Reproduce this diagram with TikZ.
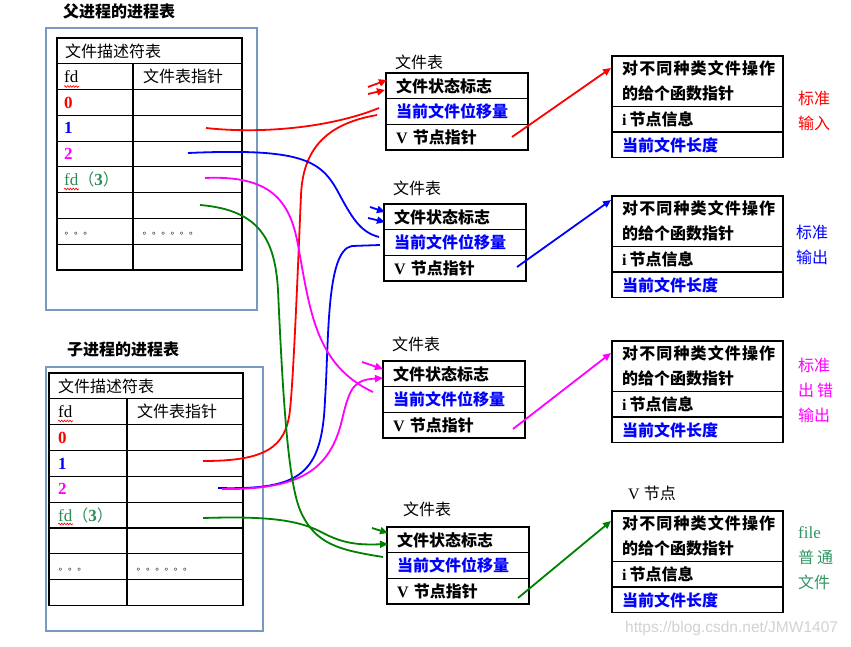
\documentclass[tikz,border=0pt]{standalone}
\usepackage{fontspec}
\setmainfont{Liberation Serif}
\newfontfamily\cjk{Noto Sans CJK SC}
\newfontfamily\wmfont{Liberation Sans}
\usetikzlibrary{arrows.meta,decorations.pathmorphing}
\definecolor{panelc}{RGB}{122,153,193}
\definecolor{mred}{RGB}{255,0,0}
\definecolor{mblue}{RGB}{0,0,255}
\definecolor{mmag}{RGB}{255,0,255}
\definecolor{mgreen}{RGB}{0,128,0}
\definecolor{tealc}{RGB}{46,139,87}
\definecolor{filec}{RGB}{50,150,100}
\definecolor{wmgray}{RGB}{210,210,210}
\newcommand\ftab[5]{% name, left, top, label x, label y
  \draw[tbl] (#2,#3) rectangle ({#2+142},{#3+77});
  \draw[tbl] (#2,{#3+25.7}) -- ({#2+142},{#3+25.7});
  \draw[tbl] (#2,{#3+51.4}) -- ({#2+142},{#3+51.4});
  \node[cellr] (#1l) at (#4,#5) {文件表};
  \node[cellb] (#1s) at ({#2+10},{#3+12.9}) {文件状态标志};
  \node[cellb,text=mblue] (#1o) at ({#2+10},{#3+38.5}) {当前文件位移量};
  \node[cellb] (#1v) at ({#2+10},{#3+64.2}) {{\rmfamily V}\hspace{5pt}节点指针};
}
\newcommand\vnbox[2]{% name, top
  \draw[tbl] (612,#2) rectangle (783,{#2+101.5});
  \draw[tbl] (612,{#2+50.5}) -- (783,{#2+50.5});
  \draw[tbl] (612,{#2+76}) -- (783,{#2+76});
  \node[cellb] (#1a) at (622,{#2+12.5}) {\addfontfeature{LetterSpace=7}对不同种类文件操作};
  \node[cellb] (#1b) at (622,{#2+37}) {的给个函数指针};
  \node[cellb] (#1c) at (622,{#2+63}) {{\rmfamily i}\hspace{3pt}节点信息};
  \node[cellb,text=mblue] (#1d) at (622,{#2+89}) {当前文件长度};
}
\begin{document}
\begin{tikzpicture}[x=1pt,y=-1pt,
  tbl/.style={draw=black,line width=1.1pt},
  panel/.style={draw=panelc,line width=2.4pt},
  cellr/.style={anchor=west,inner sep=0pt,font=\cjk\fontsize{16}{16}\selectfont},
  cellb/.style={anchor=west,inner sep=0pt,font=\cjk\bfseries\fontsize{16}{16}\selectfont},
  num/.style={anchor=west,inner sep=0pt,font=\rmfamily\bfseries\fontsize{17}{17}\selectfont},
  lat/.style={anchor=west,inner sep=0pt,font=\rmfamily\fontsize{17}{17}\selectfont},
  dots/.style={anchor=base west,inner sep=0pt,font=\cjk\fontsize{9.3}{9.3}\selectfont},
  wave/.style={draw=mred,line width=0.6pt,decorate,decoration={snake,amplitude=0.9pt,segment length=2.8pt}},
  conn/.style={line width=1.8pt},
  tip/.style={-{Triangle[length=8pt,width=7pt]}}]
\useasboundingbox[fill=white] (0,0) rectangle (851,647);

% ---------- parent process table ----------
\node[cellb] (ptitle) at (63,11) {父进程的进程表};
\draw[panel] (46,28) rectangle (257,310);
\draw[tbl] (57,38) rectangle (242,270);
\foreach \i in {1,...,8} \draw[tbl] (57,{38+\i*25.78}) -- (242,{38+\i*25.78});
\draw[tbl] (133,63.78) -- (133,270);
\node[cellr] (ph) at (65,50.9) {文件描述符表};
\node[lat] (pfd) at (64,76.7) {fd};
\node[cellr] (pptr) at (143,76.7) {文件表指针};
\node[num,text=mred] (p0) at (64,102.5) {0};
\node[num,text=mblue] (p1) at (64,128.2) {1};
\node[num,text=mmag] (p2) at (64,154) {2};
\node[anchor=west,inner sep=0pt,text=tealc] (p3) at (64,179.8) {\fontsize{17}{17}\selectfont fd{\cjk\fontsize{16}{16}\selectfont （}\textbf{3}{\cjk\fontsize{16}{16}\selectfont ）}};
\node[dots] (pd1) at (64.5,234.5) {。。。};
\node[dots] (pd2) at (142.5,234.5) {。。。。。。};
\draw[wave] (64,86.5) -- (79,86.5);
\draw[wave] (64,189) -- (79,189);

% ---------- child process table ----------
\node[cellb] (ctitle) at (67,349) {子进程的进程表};
\draw[panel] (46,367) rectangle (263,631);
\draw[tbl] (49,373) rectangle (243,605.5);
\foreach \i in {1,...,8} \draw[tbl] (49,{373+\i*25.83}) -- (243,{373+\i*25.83});
\draw[tbl] (127,398.83) -- (127,605.5);
\node[cellr] (ch) at (58,385.9) {文件描述符表};
\node[lat] (cfd) at (58,411.7) {fd};
\node[cellr] (cptr) at (137,411.7) {文件表指针};
\node[num,text=mred] (c0) at (58,437.6) {0};
\node[num,text=mblue] (c1) at (58,463.4) {1};
\node[num,text=mmag] (c2) at (58,489.2) {2};
\node[anchor=west,inner sep=0pt,text=tealc] (c3) at (58,515.1) {\fontsize{17}{17}\selectfont fd{\cjk\fontsize{16}{16}\selectfont （}\textbf{3}{\cjk\fontsize{16}{16}\selectfont ）}};
\node[dots] (cd1) at (58.5,570) {。。。};
\node[dots] (cd2) at (136.5,570) {。。。。。。};
\draw[wave] (58,421) -- (73,421);
\draw[wave] (58,524) -- (73,524);

% ---------- file tables ----------
\ftab{fa}{386}{73}{395}{62}
\ftab{fb}{384}{204}{393}{188}
\ftab{fc}{383}{361}{392}{344}
\ftab{fd}{387}{527}{403}{509}

% ---------- v-node boxes ----------
\vnbox{va}{56}
\vnbox{vb}{196}
\vnbox{vc}{341}
\vnbox{vd}{511}
\node[cellr] (vlabel) at (628,493) {{\rmfamily V}\hspace{4pt}节点};

% ---------- right labels ----------
\node[cellr,text=mred] (la1) at (798,98) {标准};
\node[cellr,text=mred] (la2) at (798,123) {输入};
\node[cellr,text=mblue] (lb1) at (796,232) {标准};
\node[cellr,text=mblue] (lb2) at (796,257) {输出};
\node[cellr,text=mmag] (lc1) at (798,365) {标准};
\node[cellr,text=mmag] (lc2) at (798,390) {出\hspace{3pt}错};
\node[cellr,text=mmag] (lc3) at (798,415) {输出};
\node[lat,text=filec] (ld1) at (798,533) {file};
\node[cellr,text=filec] (ld2) at (798,557) {普\hspace{3pt}通};
\node[cellr,text=filec] (ld3) at (798,582) {文件};

% ---------- connector coordinates ----------
\coordinate (sp1) at (206,128);
\coordinate (sp2) at (188,153);
\coordinate (sp3) at (205,178);
\coordinate (sp4) at (200,205);
\coordinate (sc1) at (203,461);
\coordinate (sc2) at (218,488);
\coordinate (sc3) at (222,489);
\coordinate (sc4) at (203,518);
\coordinate (ep1) at (379,108);
\coordinate (ec1) at (377,115);
\coordinate (ep2) at (379,237);
\coordinate (ec2) at (380,245);
\coordinate (ep3) at (373,392);
\coordinate (ec3) at (383,378);
\coordinate (ep4) at (383,557);
\coordinate (ec4) at (388,544);

% red
\draw[conn,mred] (sp1) .. controls (260,134) and (330,128) .. (ep1);
\draw[conn,mred] (sc1) .. controls (265,461) and (286,448) .. (290,410)
   .. controls (294,372) and (299,240) .. (301,195)
   .. controls (303,150) and (325,124) .. (ec1);
\coordinate (ra1) at (368,87);  \coordinate (rb1) at (387,80);
\coordinate (ra2) at (368,94);  \coordinate (rb2) at (385,90);
\draw[conn,mred,tip] (ra1) -- (rb1);
\draw[conn,mred,tip] (ra2) -- (rb2);
% blue
\draw[conn,mblue] (sp2) .. controls (300,148) and (320,160) .. (337,190)
   .. controls (352,218) and (360,232) .. (ep2);
\draw[conn,mblue] (sc2) .. controls (300,490) and (322,475) .. (325,400)
   .. controls (329,340) and (326,250) .. (352,246) -- (ec2);
\coordinate (ba1) at (370,207); \coordinate (bb1) at (385,212);
\coordinate (ba2) at (368,218); \coordinate (bb2) at (385,222);
\draw[conn,mblue,tip] (ba1) -- (bb1);
\draw[conn,mblue,tip] (ba2) -- (bb2);
% magenta
\draw[conn,mmag] (sp3) .. controls (270,175) and (290,200) .. (298,245)
   .. controls (310,310) and (315,365) .. (ep3);
\draw[conn,mmag,tip] (sc3) .. controls (300,490) and (330,470) .. (342,420)
   .. controls (350,385) and (355,380) .. (ec3);
\coordinate (ma1) at (362,362); \coordinate (mb1) at (383,369);
\draw[conn,mmag,tip] (ma1) -- (mb1);
% green
\draw[conn,mgreen] (sp4) .. controls (260,210) and (275,240) .. (278,290)
   .. controls (283,400) and (288,480) .. (300,510)
   .. controls (315,545) and (340,550) .. (ep4);
\draw[conn,mgreen,tip] (sc4) .. controls (270,516) and (300,520) .. (325,534)
   .. controls (345,544) and (360,545) .. (ec4);
\coordinate (ga1) at (372,528); \coordinate (gb1) at (388,533);
\draw[conn,mgreen,tip] (ga1) -- (gb1);

% ---------- file table -> v-node ----------
\coordinate (va0) at (512,137); \coordinate (vat) at (611,68);
\coordinate (vb0) at (517,267); \coordinate (vbt) at (611,200);
\coordinate (vc0) at (513,429); \coordinate (vct) at (611,353);
\coordinate (vd0) at (518,598); \coordinate (vdt) at (611,521);
\draw[conn,mred,tip] (va0) -- (vat);
\draw[conn,mblue,tip] (vb0) -- (vbt);
\draw[conn,mmag,tip] (vc0) -- (vct);
\draw[conn,mgreen,tip] (vd0) -- (vdt);

% ---------- watermark ----------
\node[anchor=west,inner sep=0pt,text=wmgray,font=\wmfont\fontsize{15.5}{15.5}\selectfont] (wm) at (625,628) {https://blog.csdn.net/JMW1407};
\end{tikzpicture}
\end{document}
